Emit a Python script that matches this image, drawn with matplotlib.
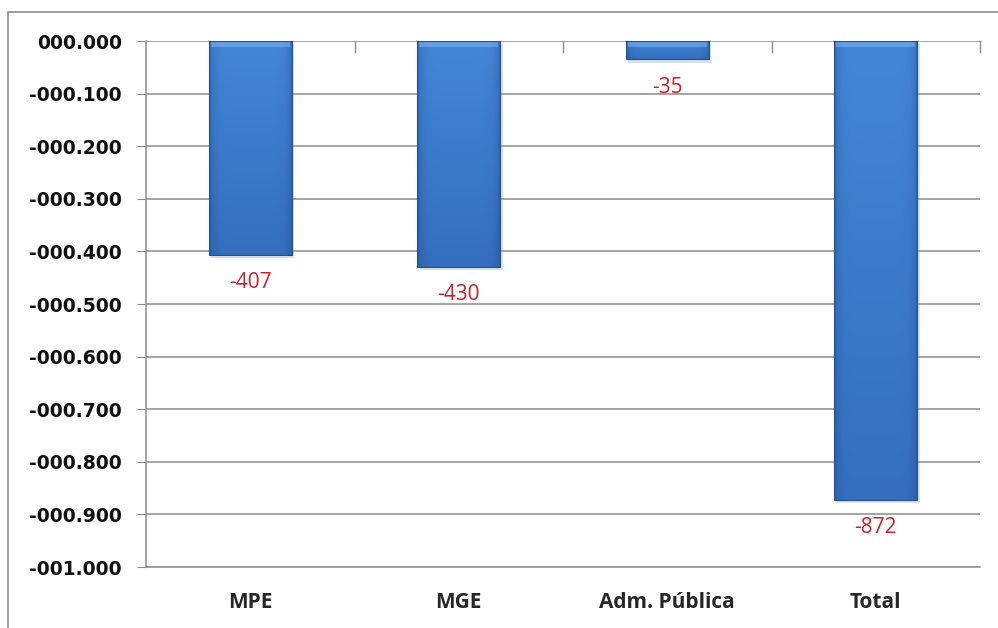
import numpy as np
import matplotlib
matplotlib.use("Agg")
import matplotlib.pyplot as plt
from matplotlib.patches import Rectangle
from matplotlib.colors import LinearSegmentedColormap

categories = ['MPE', 'MGE', 'Adm. Pública', 'Total']
values = [-407, -430, -35, -872]
y_ticks = [0, -100, -200, -300, -400, -500, -600, -700, -800, -900, -1000]


def fmt_tick(v, _=None):
    # Brazilian style "000.000" with the dot as thousands separator
    s = f"{abs(int(round(v))):06d}"
    s = s[:3] + '.' + s[3:]
    return ('-' + s) if v < 0 else s


fig = plt.figure(figsize=(9.98, 6.28), dpi=100)
ax = fig.add_axes([0.1463, 0.0971, 0.8357, 0.8376])

# outer chart frame
fig.patches.append(Rectangle((8 / 998, -0.05), 1.2, 1 - 12 / 628 + 0.05,
                             transform=fig.transFigure, fill=False,
                             edgecolor='#8c8c8c', linewidth=1.2))

x = np.arange(len(categories))
bar_w = 0.40

cmap = LinearSegmentedColormap.from_list('barblue', ['#24549a', '#3671c0', '#4386d8'])

for xi, v in zip(x, values):
    # soft shadow
    ax.add_patch(Rectangle((xi - bar_w / 2 + 0.012, v - 6), bar_w, -v,
                           facecolor='#9aa8bb', edgecolor='none', alpha=0.35, zorder=2))
    bar = Rectangle((xi - bar_w / 2, v), bar_w, -v, facecolor='none',
                    edgecolor='#24508e', linewidth=0.8, zorder=4)
    ax.add_patch(bar)
    # gradient fill: lighter at top, darker at bottom and at the sides
    ny, nx = 100, 60
    vert = np.linspace(1.0, 0.45, ny)[:, None]
    horiz = np.linspace(-1, 1, nx)[None, :]
    side = 1 - 0.6 * np.abs(horiz) ** 8
    grad = vert * side
    im = ax.imshow(grad, cmap=cmap, vmin=0, vmax=1, aspect='auto',
                   extent=(xi - bar_w / 2, xi + bar_w / 2, v, 0),
                   interpolation='bilinear', zorder=3)
    im.set_clip_path(bar)
    # top highlight
    hl = Rectangle((xi - bar_w / 2 + 0.01, -min(12, -v * 0.3)), bar_w - 0.02,
                   min(12, -v * 0.3), facecolor='#7fb0ea', edgecolor='none',
                   alpha=0.6, zorder=3.5)
    ax.add_patch(hl)
    ax.annotate(str(v), (xi, v), xytext=(0, -20), textcoords='offset points',
                ha='center', va='center', color='#c8202a', fontsize=15,
                family='Open Sans', zorder=5)

ax.set_xlim(-0.5, len(categories) - 0.5)
ax.set_ylim(-1000, 0)
ax.set_yticks(y_ticks)
ax.yaxis.set_major_formatter(plt.FuncFormatter(fmt_tick))
ax.grid(True, axis='y', color='#8c8c8c', linewidth=1.1, zorder=1)
ax.set_axisbelow(True)

ax.set_xticks(x)
ax.set_xticklabels(categories, fontsize=15, family='Open Sans', fontweight='bold')
ax.tick_params(axis='x', length=0, pad=18)
ax.tick_params(axis='y', length=6.5, color='#8c8c8c', labelsize=13.5, pad=11)
for lab in ax.get_yticklabels():
    lab.set_fontweight('bold')
    lab.set_color('#111111')
for lab in ax.get_xticklabels():
    lab.set_color('#262626')

for s in ['top', 'right']:
    ax.spines[s].set_visible(False)
ax.spines['left'].set_color('#8c8c8c')
ax.spines['bottom'].set_color('#8c8c8c')
ax.spines['left'].set_linewidth(1.1)
ax.spines['bottom'].set_linewidth(1.1)

# category boundary ticks hanging from the zero line
for b in np.arange(0.5, len(categories), 1.0):
    ax.plot([b, b], [0, -20], color='#8c8c8c', linewidth=1.0, zorder=1,
            clip_on=False)

fig.savefig('out.png', dpi=100)
